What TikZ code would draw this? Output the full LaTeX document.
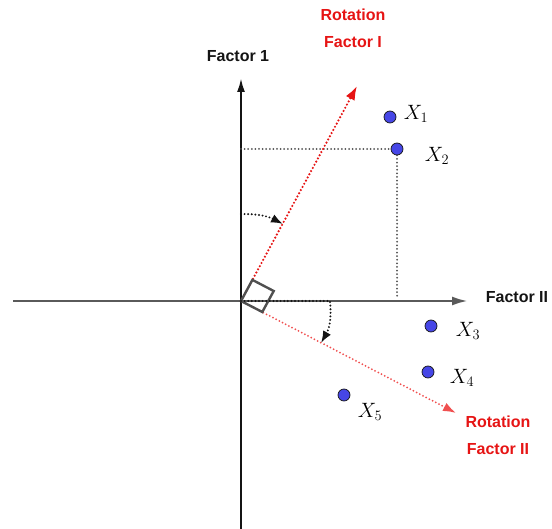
\documentclass[tikz,border=0pt]{standalone}
\usepackage{fontspec}
\setmainfont{Liberation Sans}
\usetikzlibrary{positioning, arrows.meta}
\definecolor{ink}{RGB}{20,20,20}
\definecolor{axisgray}{RGB}{90,90,90}
\definecolor{rotred}{RGB}{230,20,20}
\definecolor{softred}{RGB}{240,80,80}
\definecolor{dotblue}{RGB}{70,70,230}
\definecolor{dotline}{RGB}{80,80,80}
\tikzset{
  dotty/.style   ={dash pattern=on 0pt off 3.6pt, line cap=round},
  axisv/.style   ={-{Latex[length=14pt, width=8pt]}, line width=2.2pt, color=ink},
  axish/.style   ={-{Latex[length=16pt, width=9pt]}, line width=2.6pt, color=axisgray},
  rotarr/.style  ={-{Latex[length=14pt, width=10pt]}, line width=2.4pt, dotty, color=rotred},
  rotarrb/.style ={-{Latex[length=13pt, width=9pt]}, line width=2pt, dotty, color=softred},
  projline/.style={line width=2pt, dotty, color=dotline},
  turnarr/.style ={-{Latex[length=12pt, width=9pt]}, line width=2.2pt, dotty, color=ink},
  rightang/.style={line width=2.4pt, color=dotline},
  obspoint/.style={circle, draw=ink, line width=0.7pt, fill=dotblue, minimum size=12pt, inner sep=0pt},
  axlabel/.style ={font=\fontsize{16}{27}\selectfont\bfseries, color=ink, align=center},
  rotlabel/.style={font=\fontsize{16}{27}\selectfont\bfseries, color=rotred, align=center},
  ptlabel/.style ={font=\fontsize{20}{22}\selectfont, inner sep=0pt},
}
\begin{document}
\begin{tikzpicture}[x=1pt, y=-1pt]
\useasboundingbox (0,0) rectangle (552,529);
% axes
\coordinate (O) at (241,301);
\coordinate (ytop) at (241,78);
\coordinate (ybot) at (241,529);
\coordinate (xleft) at (13,301);
\coordinate (xright) at (468,301);
\draw[axish] (xleft) -- (xright);
\draw[axisv] (ybot) -- (ytop);

% observations
\node[obspoint] (p1) at (390,117) {};
\node[obspoint] (p2) at (397,149) {};
\node[obspoint] (p3) at (431,326) {};
\node[obspoint] (p4) at (428,372) {};
\node[obspoint] (p5) at (344,395) {};
\node[ptlabel] (l1) at (416,114) {$X_1$};
\node[ptlabel] (l2) at (437,156) {$X_2$};
\node[ptlabel] (l3) at (468,331) {$X_3$};
\node[ptlabel] (l4) at (462,378) {$X_4$};
\node[ptlabel] (l5) at (370,412) {$X_5$};

% projections of X2
\coordinate (py) at (241,149);
\coordinate (px) at (397,299);
\draw[projline] (py) -- (p2.west);
\draw[projline] (p2.south) -- (px);

% rotated factors
\coordinate (r1) at (357,86);
\coordinate (r2) at (456,413);
\draw[rotarr] (O) -- (r1);
\draw[rotarrb] (O) -- (r2);

% right angle
\draw[rightang] (O) -- (252.4,279.9) -- (273.7,291) -- (262.3,312) -- cycle;

% rotation arcs
\coordinate (a1s) at (241,214);
\coordinate (a1e) at (283,224);
\coordinate (a2s) at (330,301);
\coordinate (a2e) at (321,343);
\draw[turnarr] (a1s) to[bend left=14] (a1e);
\draw[turnarr] (O) -- (a2s) to[bend left=18] (a2e);

% labels
\node[axlabel] (f1) at (238,56) {Factor 1};
\node[axlabel] (f2) at (517,297) {Factor II};
\node[rotlabel] (rf1) at (353,28) {Rotation\\Factor I};
\node[rotlabel] (rf2) at (498,435) {Rotation\\Factor II};
\end{tikzpicture}
\end{document}
